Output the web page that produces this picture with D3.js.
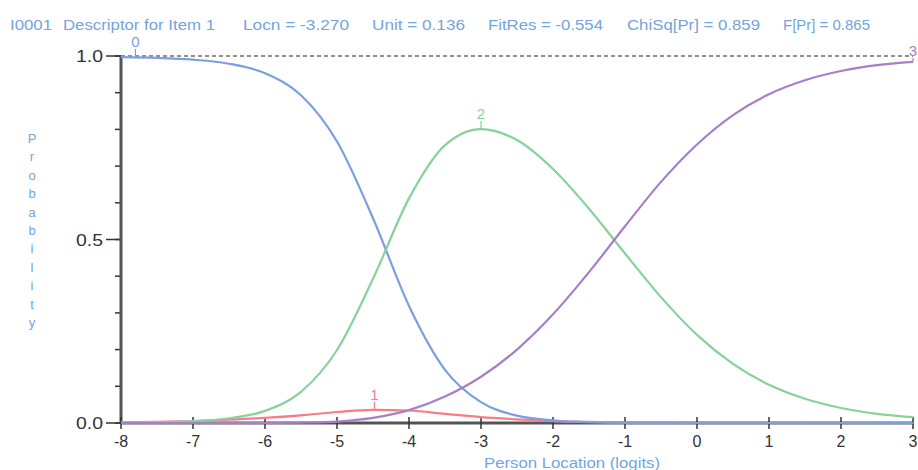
<!DOCTYPE html>
<html><head><meta charset="utf-8">
<script src="https://cdn.jsdelivr.net/npm/d3@7"></script>
<style>body{margin:0;background:#fff}svg{display:block}</style>
</head><body><svg id="c" width="918" height="470"></svg>
<script>
const theta = [-8,-7.5,-7,-6.5,-6,-5.5,-5,-4.5,-4,-3.5,-3,-2.5,-2,-1.5,-1,-0.5,0,0.5,1,1.5,2,2.5,3];
const cat0 = [0.997,0.995,0.990,0.979,0.953,0.893,0.767,0.558,0.319,0.145,0.057,0.020,0.007,0.002,0.001,0,0,0,0,0,0,0,0];
const cat1 = [0.002,0.003,0.005,0.009,0.014,0.021,0.030,0.036,0.034,0.025,0.016,0.010,0.005,0.003,0.001,0.001,0,0,0,0,0,0,0];
const cat2 = [0.001,0.002,0.005,0.013,0.033,0.085,0.199,0.393,0.612,0.757,0.801,0.771,0.692,0.584,0.462,0.343,0.240,0.161,0.104,0.066,0.041,0.025,0.016];
const cat3 = [0,0,0,0,0,0.001,0.004,0.014,0.035,0.072,0.126,0.200,0.296,0.411,0.536,0.657,0.759,0.839,0.896,0.934,0.959,0.975,0.984];
const xTicks = [-8,-7,-6,-5,-4,-3,-2,-1,0,1,2,3];
const yLabels = [0.0,0.5,1.0];
const titleParts = ["I0001","Descriptor for Item 1","Locn = -3.270","Unit = 0.136","FitRes = -0.554","ChiSq[Pr] = 0.859","F[Pr] = 0.865"];
const catNames = ["0","1","2","3"];

const svg = d3.select("#c");
const x = d3.scaleLinear().domain([-8,3]).range([121,913]);
const y = d3.scaleLinear().domain([0,1]).range([423,56]);
const blue="#7b9fe2", red="#f57c88", green="#86d39a", purple="#a77fc6", tblue="#74a4dc";

// title
const tpos = [[10,42],[63,152],[243,106],[372,93],[488,115],[627,133],[783,87]];
titleParts.forEach((t,i)=>{
  svg.append("text").attr("x",tpos[i][0]).attr("y",30).attr("textLength",tpos[i][1])
    .attr("lengthAdjust","spacingAndGlyphs")
    .attr("font-family","Liberation Sans, Arial, sans-serif").attr("font-size",15.5)
    .attr("fill",tblue).text(t);
});

// dashed line at 1.0
svg.append("line").attr("x1",x(-8)).attr("x2",x(3)).attr("y1",y(1)).attr("y2",y(1))
  .attr("stroke","#222").attr("stroke-width",1.2).attr("stroke-dasharray","4,3");

// y axis minor ticks
d3.range(0,1.01,0.1).forEach(v=>{
  svg.append("line").attr("x1",115).attr("x2",121).attr("y1",y(v)).attr("y2",y(v))
    .attr("stroke","#333").attr("stroke-width",1.5);
});
yLabels.forEach(v=>{
  svg.append("line").attr("x1",106).attr("x2",121).attr("y1",y(v)).attr("y2",y(v))
    .attr("stroke","#333").attr("stroke-width",1.5);
  svg.append("text").attr("x",103).attr("y",y(v)+6).attr("text-anchor","end")
    .attr("font-family","Liberation Sans, Arial, sans-serif").attr("font-size",16)
    .attr("textLength",27).attr("lengthAdjust","spacingAndGlyphs")
    .attr("fill","#333").text(d3.format(".1f")(v));
});

// axes lines
svg.append("line").attr("x1",x(-8)).attr("x2",x(3)).attr("y1",y(0)).attr("y2",y(0))
  .attr("stroke","#555").attr("stroke-width",3);
svg.append("line").attr("x1",x(-8)).attr("x2",x(-8)).attr("y1",y(1)).attr("y2",y(0))
  .attr("stroke","#555").attr("stroke-width",3);

// x ticks
xTicks.forEach(v=>{
  svg.append("line").attr("x1",x(v)).attr("x2",x(v)).attr("y1",y(0)-6).attr("y2",y(0)+6)
    .attr("stroke","#333").attr("stroke-width",1.5);
  svg.append("text").attr("x",x(v)).attr("y",447).attr("text-anchor","middle")
    .attr("font-family","Liberation Sans, Arial, sans-serif").attr("font-size",16)
    .attr("fill","#333").text(v);
});

// axis titles
svg.append("text").attr("x",572).attr("y",468).attr("text-anchor","middle")
  .attr("font-family","Liberation Sans, Arial, sans-serif").attr("font-size",14)
  .attr("textLength",176).attr("lengthAdjust","spacingAndGlyphs")
  .attr("fill",tblue).text("Person Location (logits)");
"Probability".split("").forEach((ch,i)=>{
  svg.append("text").attr("x",32).attr("y",143+i*18.4).attr("text-anchor","middle")
    .attr("font-family","Liberation Sans, Arial, sans-serif").attr("font-size",13)
    .attr("fill",tblue).text(ch);
});

// curves
const line = d3.line().x((d,i)=>x(theta[i])).y(d=>y(d)).curve(d3.curveMonotoneX);
const series = [[cat1,red],[cat0,blue],[cat2,green],[cat3,purple]];
series.forEach(([s,c])=>{
  svg.append("path").attr("d",line(s)).attr("fill","none").attr("stroke",c).attr("stroke-width",2.2);
});

// category labels
const labs = [[catNames[0],-7.8,cat0[0],blue,-10],[catNames[1],-4.48,cat1[7],red,-10],[catNames[2],-3,cat2[10],green,-10],[catNames[3],3,cat3[22],purple,-6]];
labs.forEach(([t,tx,v,c,off])=>{
  svg.append("line").attr("x1",x(tx)).attr("x2",x(tx)).attr("y1",y(v)).attr("y2",y(v)+off+2)
    .attr("stroke",c).attr("stroke-width",1.2);
  svg.append("text").attr("x",x(tx)).attr("y",y(v)+off).attr("text-anchor","middle")
    .attr("font-family","Liberation Sans, Arial, sans-serif").attr("font-size",15)
    .attr("fill",c).text(t);
});
</script></body></html>
